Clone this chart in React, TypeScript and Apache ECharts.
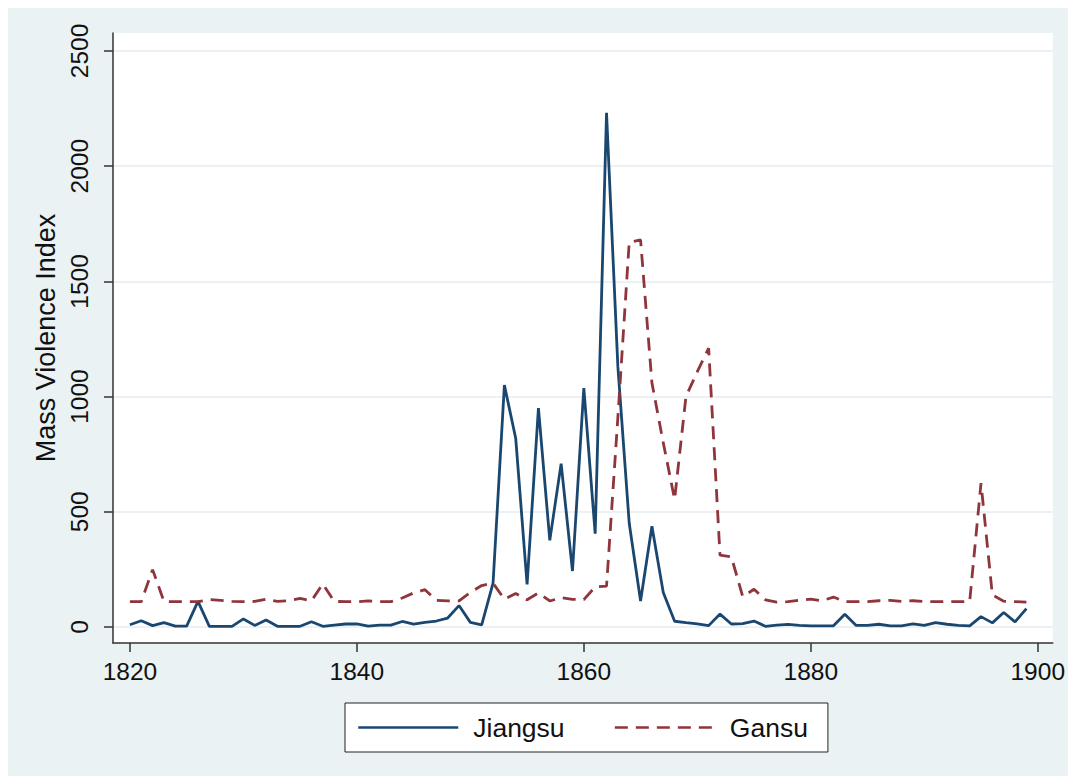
import React, { useEffect, useRef } from "react";
import * as echarts from "echarts";

const years: number[] = [];
for (let y = 1820; y <= 1899; y++) years.push(y);

const jiangsu = [
  10, 27, 6, 19, 4, 4, 111, 3, 3, 3,
  35, 7, 30, 3, 3, 3, 23, 3, 8, 13,
  14, 4, 8, 8, 24, 13, 20, 26, 39, 93,
  20, 9, 190, 1050, 818, 185, 950, 376, 709, 243,
  1037, 405, 2232, 1130, 450, 113, 437, 150, 25, 19,
  14, 6, 56, 13, 15, 26, 3, 8, 11, 7,
  5, 5, 5, 55, 7, 7, 12, 5, 5, 14,
  7, 19, 12, 7, 5, 45, 18, 63, 22, 80,
];

const gansu = [
  110, 110, 249, 111, 110, 110, 110, 119, 116, 111,
  110, 111, 121, 111, 114, 124, 114, 187, 111, 110,
  110, 113, 110, 110, 126, 148, 162, 116, 113, 113,
  150, 180, 190, 121, 145, 118, 148, 113, 127, 120,
  119, 174, 177, 910, 1670, 1680, 1060, 800, 554, 1000,
  1108, 1210, 312, 305, 132, 164, 118, 108, 110, 116,
  121, 114, 130, 110, 110, 110, 114, 116, 111, 114,
  111, 110, 110, 110, 110, 624, 139, 112, 110, 108,
];

const xTicks = [1820, 1840, 1860, 1880, 1900];
const yTicks = [0, 500, 1000, 1500, 2000, 2500];

const FONT = "'Liberation Sans', Arial, Helvetica, sans-serif";

export default function App() {
  const ref = useRef<HTMLDivElement>(null);
  useEffect(() => {
    if (!ref.current) return;
    const chart = echarts.init(ref.current, undefined, { renderer: "svg" });
    chart.setOption({
      animation: false,
      backgroundColor: "#eaf2f3",
      textStyle: { fontFamily: FONT },
      grid: {
        left: 105,
        top: 25,
        right: 13,
        bottom: 133,
        show: true,
        backgroundColor: "#ffffff",
        borderWidth: 0,
      },
      legend: {
        data: ["Jiangsu", "Gansu"],
        left: 337,
        top: 695,
        orient: "horizontal",
        itemWidth: 100,
        itemHeight: 14,
        itemGap: 49,
        padding: [11, 20, 11, 12],
        backgroundColor: "#ffffff",
        borderColor: "#222",
        borderWidth: 1,
        borderRadius: 0,
        itemStyle: { opacity: 0 },
        lineStyle: { width: 2.5 },
        textStyle: { fontSize: 26.5, color: "#111", fontFamily: FONT, padding: [0, 0, 0, 10] },
      },
      xAxis: {
        type: "value",
        min: 1818.51,
        max: 1901.32,
        axisLine: { show: true, onZero: false, lineStyle: { color: "#333", width: 1.5 } },
        axisTick: { show: true, length: 9, customValues: xTicks, lineStyle: { color: "#333", width: 1.5 } },
        axisLabel: {
          customValues: xTicks,
          fontSize: 24.5,
          color: "#111",
          margin: 16,
          fontFamily: FONT,
          formatter: (v: number) => String(v),
        },
        splitLine: { show: false },
      },
      yAxis: {
        type: "value",
        min: -69.4,
        max: 2578,
        name: "Mass Violence Index",
        nameLocation: "middle",
        nameGap: 49,
        nameTextStyle: { fontSize: 27, color: "#111", fontFamily: FONT },
        axisLine: { show: true, onZero: false, lineStyle: { color: "#333", width: 1.5 } },
        axisTick: { show: true, length: 9, customValues: yTicks, lineStyle: { color: "#333", width: 1.5 } },
        axisLabel: {
          customValues: yTicks,
          fontSize: 24.5,
          color: "#111",
          rotate: 90,
          margin: 21,
          fontFamily: FONT,
          formatter: (v: number) => String(v),
        },
        splitLine: { show: true, lineStyle: { color: "#e6eef0", width: 1.5 } },
      },
      series: [
        {
          name: "Jiangsu",
          type: "line",
          data: years.map((y, i) => [y, jiangsu[i]]),
          symbol: "none",
          lineStyle: { color: "#1a476f", width: 2.8 },
          itemStyle: { color: "#1a476f" },
        },
        {
          name: "Gansu",
          type: "line",
          data: years.map((y, i) => [y, gansu[i]]),
          symbol: "none",
          lineStyle: { color: "#90353b", width: 2.8, type: [13, 8] },
          itemStyle: { color: "#90353b" },
        },
      ],
    });
    return () => chart.dispose();
  }, []);
  return <div ref={ref} style={{ width: 1060, height: 768 }} />;
}
